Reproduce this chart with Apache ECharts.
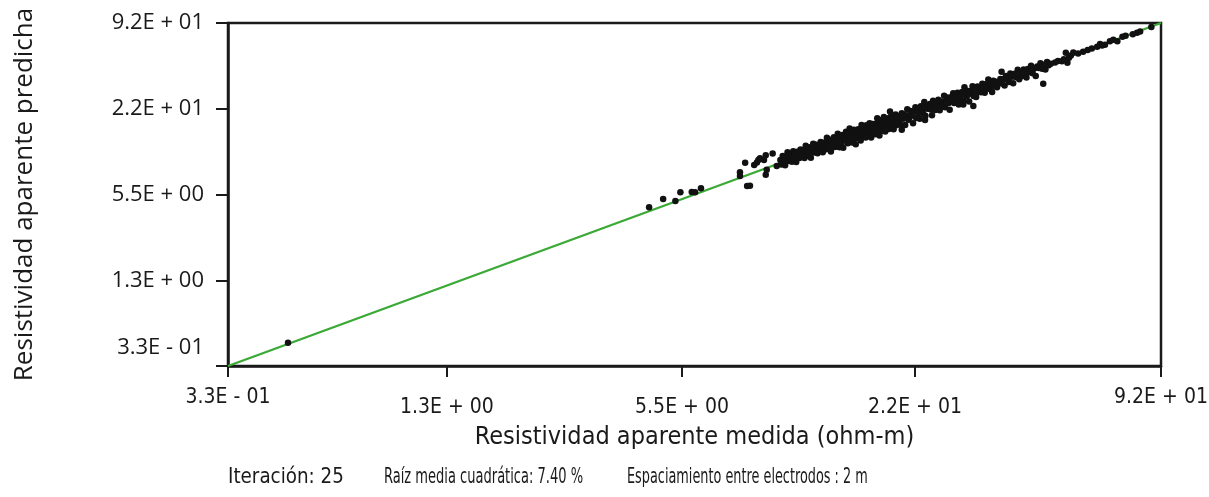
<!DOCTYPE html>
<html><head><meta charset="utf-8">
<script src="https://cdn.jsdelivr.net/npm/echarts@6/dist/echarts.min.js"></script>
<style>html,body{margin:0;padding:0;background:#fff}#c{width:1209px;height:497px}</style>
</head><body><div id="c"></div><script>
// Axis range and ticks (resistivity, ohm-m)
const axisMin = 0.33;
const axisMax = 92;
const xTickValues = [0.33, 1.237, 5.11, 20.85, 92];
const xTickLabels = ['3.3E - 01', '1.3E + 00', '5.5E + 00', '2.2E + 01', '9.2E + 01'];
const yTickValues = [0.33, 1.348, 5.51, 22.5, 92];
const yTickLabels = ['3.3E - 01', '1.3E + 00', '5.5E + 00', '2.2E + 01', '9.2E + 01'];

// 1:1 reference line
const lineValues = [0.33, 92];

// [measured, predicted]
const pointsLow = [
 [0.474,0.483],[4.19,4.47],[4.56,5.12],[4.91,4.95],[5.06,5.71],[5.42,5.74],[5.53,5.71],[5.73,6.10],
 [7.25,7.94],[7.25,7.47],[7.48,9.29],[7.57,6.34],[7.70,6.37],[7.90,8.93],[8.03,9.31],[8.18,9.98],
 [8.38,9.71],[8.47,10.5],[8.83,10.8],[8.47,7.62],[8.52,8.26],[9.05,8.79],[8.10,9.70]
];
const pointsA = [
 [9.25,9.71],[9.30,9.00],[9.38,10.36],[9.45,9.61],[9.52,8.91],[9.60,10.25],[9.66,11.01],[9.72,9.56],
 [9.80,10.12],[9.85,10.70],[9.92,9.44],[10.0,11.22],[10.05,10.05],[10.1,10.6],[10.18,9.38],[10.25,11.13],
 [10.3,10.48],[10.38,10.05],[10.45,11.54],[10.5,11.03],[10.58,10.41],[10.65,11.37],[10.7,10.02],[10.78,12.29],
 [10.85,11.21],[10.92,10.40],[11.0,11.95],[11.05,11.05],[11.12,10.07],[11.2,11.76],[11.28,12.66],[11.35,10.99],
 [11.42,11.61],[11.5,12.49],[11.58,10.84],[11.65,12.03],[11.72,11.53],[11.8,13.03],[11.88,12.47],[11.95,11.01],
 [12.02,12.02],[12.1,12.92],[12.18,11.6],[12.25,13.97],[12.32,12.53],[12.4,12.0],[12.48,13.55]
];
const pointsB = [
 [12.55,11.18],[12.62,13.25],[12.7,12.7],[12.78,14.11],[12.85,12.03],[12.92,13.35],[13.0,12.79],[13.08,14.91],
 [13.15,14.04],[13.22,11.98],[13.3,13.53],[13.38,12.74],[13.45,14.61],[13.52,11.86],[13.6,14.05],[13.68,13.46],
 [13.75,15.43],[13.82,14.51],[13.9,12.8],[13.98,13.98],[14.05,16.28],[14.12,13.67],[14.2,15.17],[14.28,12.94],
 [14.35,14.59],[14.42,15.92],[14.5,13.8],[14.58,12.58],[14.65,15.38],[14.72,14.72],[14.8,16.07],[14.88,13.93],
 [14.95,15.44],[15.02,13.38],[15.1,17.21],[15.18,14.94],[15.25,16.29],[15.32,14.58],[15.4,15.66],[15.48,14.02],
 [15.55,17.17],[15.62,15.12],[15.7,16.49],[15.78,14.53],[15.85,17.78],[15.92,15.92],[16.0,14.03],[16.08,16.61],
 [16.15,17.54],[16.22,15.44],[16.3,16.58],[16.38,14.84],[16.45,17.57],[16.52,16.26],[16.6,19.24],[16.68,15.61],
 [16.75,17.3],[16.82,14.52],[16.9,18.66],[16.98,16.98],[17.05,15.7],[17.12,17.98],[17.2,16.65],[17.28,19.7],
 [17.35,17.64],[17.42,15.52],[17.5,18.69],[17.58,16.74],[17.93,21.48],[17.72,18.3],[17.8,16.13],[17.88,19.42],
 [17.95,17.95],[18.02,16.87],[18.1,20.31],[18.18,17.89],[18.25,19.16],[18.32,16.07],[18.4,18.71],[18.48,17.89],
 [18.55,20.48],[18.62,17.15],[18.7,19.97],[19.25,15.92],[18.85,18.85],[18.92,18.01],[19.0,19.63]
];
const pointsC = [
 [19.1,17.3],[19.25,20.91],[19.4,19.09],[19.5,20.48],[19.65,17.23],[19.8,20.14],[19.9,22.33],[20.05,18.77],
 [20.2,19.55],[20.3,21.68],[20.45,20.45],[20.6,17.78],[20.75,21.43],[20.9,23.07],[21.0,19.34],[21.15,22.21],
 [21.3,20.96],[21.45,19.11],[21.6,23.46],[21.75,22.12],[21.9,20.85],[22.05,25.14],[22.2,20.11],[22.35,23.09],
 [22.5,22.5],[22.15,18.75],[22.8,24.35],[22.95,22.22],[23.1,20.26],[23.25,25.67],[23.4,23.8],[23.55,22.04],
 [23.7,24.89],[23.85,23.47],[24.0,26.06],[24.2,21.93],[24.35,24.35],[24.5,25.31],[24.7,23.51],[24.85,27.88],
 [25.0,23.03],[25.2,25.63],[25.35,27.07],[25.55,24.73],[25.7,22.18],[25.9,27.2],[26.05,26.05],[26.25,28.98],
 [26.4,24.71],[26.6,27.48],[26.8,26.37],[26.95,29.27],[27.15,24.19],[27.35,27.81],[27.5,26.18],[27.7,29.58],
 [27.9,25.7],[28.1,32.03],[28.3,28.3],[28.5,27.59],[28.7,30.14],[28.9,25.35],[29.1,30.06],[29.3,28.83],
 [29.5,32.57],[29.7,27.8],[29.95,30.46],[30.15,27.32],[30.4,32.47],[30.6,29.62],[30.85,31.87],[31.05,29.56],
 [31.3,33.99],[31.5,31.5],[31.75,29.24],[32.0,33.6],[32.2,31.68],[32.45,36.41],[32.7,31.13],[32.95,33.51],
 [33.2,29.58],[33.45,35.72],[33.7,32.62],[33.95,35.07],[34.2,32.01],[34.45,34.45],[35.16,41.4],[34.9,36.65],
 [27.9,24.1],[29.64,23.57]
];
const pointsD = [
 [35.2,34.07],[35.5,36.67],[35.8,32.97],[36.1,38.55],[36.4,36.4],[36.75,34.99],[37.05,40.24],[37.4,38.04],
 [37.7,34.16],[38.05,39.95],[38.4,37.79],[38.75,42.78],[39.1,36.6],[39.45,40.75],[39.8,38.53],[40.15,42.88],
 [40.5,40.5],[40.85,37.62],[41.2,43.26],[41.6,40.93],[42.0,45.61],[42.4,40.36],[42.8,43.53],[43.2,38.49],
 [43.6,45.04],[44.0,44.0],[44.45,47.47],[44.9,43.46],[45.35,46.12],[45.8,42.87],[46.25,48.56],[46.7,45.95],
 [45.2,33.9]
];
const pointsHigh = [
 [45.7,46.3],[47.3,47.1],[48.55,48.2],[49.4,49.4],[50.6,49.1],[51.2,50.7],[52.3,48.0],[51.8,56.5],
 [52.8,51.9],[53.4,54.0],[54.2,56.6],[55.8,55.8],[57.5,57.5],[59.1,59.1],[60.6,60.6],[62.6,62.2],
 [63.7,65.2],[64.5,63.7],[65.6,64.4],[67.6,68.1],[69.0,70.0],[70.7,68.2],[72.9,73.4],[74.3,74.5],
 [77.6,76.4],[79.6,78.3],[81.1,80.0],[86.8,86.1]
];

// Footer texts
const footerTexts = ['Iteración: 25', 'Raíz media cuadrática: 7.40 %', 'Espaciamiento entre electrodos : 2 m'];

const allPoints = [].concat(pointsLow, pointsA, pointsB, pointsC, pointsD, pointsHigh);
const lg = v => Math.log10(v);
const xTickLog = xTickValues.map(lg);
const yTickLog = yTickValues.map(lg);
function nearestIndex(v, ticks) {
  let best = 0, bd = Infinity;
  ticks.forEach((t, i) => { const d = Math.abs(t - v); if (d < bd) { bd = d; best = i; } });
  return best;
}

const narrow = "Liberation Sans Narrow, DejaVu Sans Condensed, sans-serif";
const regular = "Open Sans, Liberation Sans, sans-serif";
const ink = '#1a1a1a';

const footerX = [228, 384, 627];
const footerScale = [0.97, 0.69, 0.68];

const chart = echarts.init(document.getElementById('c'), null, {renderer: 'canvas'});
chart.setOption({
  animation: false,
  backgroundColor: '#ffffff',
  grid: {left: 228, right: 48, top: 23, bottom: 131, show: true, borderColor: '#1a1a1a', borderWidth: 2.5, backgroundColor: 'transparent', outerBoundsMode: 'none'},
  xAxis: {
    type: 'value', min: lg(axisMin), max: lg(axisMax),
    name: 'Resistividad aparente medida (ohm-m)', nameLocation: 'middle', nameGap: 59,
    nameTextStyle: {fontFamily: narrow, fontSize: 25, color: ink},
    axisLine: {show: true, onZero: false, lineStyle: {color: '#1a1a1a', width: 2.5}},
    axisTick: {show: true, length: 11, lineStyle: {color: '#1a1a1a', width: 2}, customValues: xTickLog},
    axisLabel: {margin: 42, verticalAlign: 'middle', fontFamily: narrow, fontSize: 21, color: ink, customValues: xTickLog,
      formatter: v => {
        const i = nearestIndex(v, xTickLog);
        return (i === 0 || i === xTickLog.length - 1) ? '{up|' + xTickLabels[i] + '}' : xTickLabels[i];
      },
      rich: {up: {fontFamily: narrow, fontSize: 21, color: ink, padding: [0, 0, 20, 0]}}
    },
    splitLine: {show: false}
  },
  yAxis: {
    type: 'value', min: lg(axisMin), max: lg(axisMax),
    name: 'Resistividad aparente predicha', nameLocation: 'middle', nameGap: 190, nameRotate: 90,
    nameTextStyle: {fontFamily: regular, fontSize: 26, color: ink},
    axisLine: {show: true, onZero: false, lineStyle: {color: '#1a1a1a', width: 2.5}},
    axisTick: {show: true, length: 12, lineStyle: {color: '#1a1a1a', width: 2}, customValues: yTickLog},
    axisLabel: {margin: 24, fontFamily: regular, fontSize: 22, color: ink, customValues: yTickLog,
      formatter: v => {
        const i = nearestIndex(v, yTickLog);
        return i === 0 ? '{up|' + yTickLabels[i] + '}' : yTickLabels[i];
      },
      rich: {up: {fontFamily: regular, fontSize: 22, color: ink, padding: [0, 0, 36, 0]}}
    },
    splitLine: {show: false}
  },
  graphic: footerTexts.map((t, i) => ({
    type: 'text', x: footerX[i], y: 478, scaleX: footerScale[i],
    style: {text: t, fontFamily: narrow, fontSize: 21, fill: ink, verticalAlign: 'middle', align: 'left'}
  })),
  series: [
    {type: 'line', data: lineValues.map(v => [lg(v), lg(v)]), symbol: 'none',
     lineStyle: {color: '#3aa935', width: 2.2}, z: 2, silent: true},
    {type: 'scatter', data: allPoints.map(p => [lg(p[0]), lg(p[1])]), symbolSize: 6.5,
     itemStyle: {color: '#111111', opacity: 1}, z: 3, silent: true}
  ]
});
</script></body></html>
